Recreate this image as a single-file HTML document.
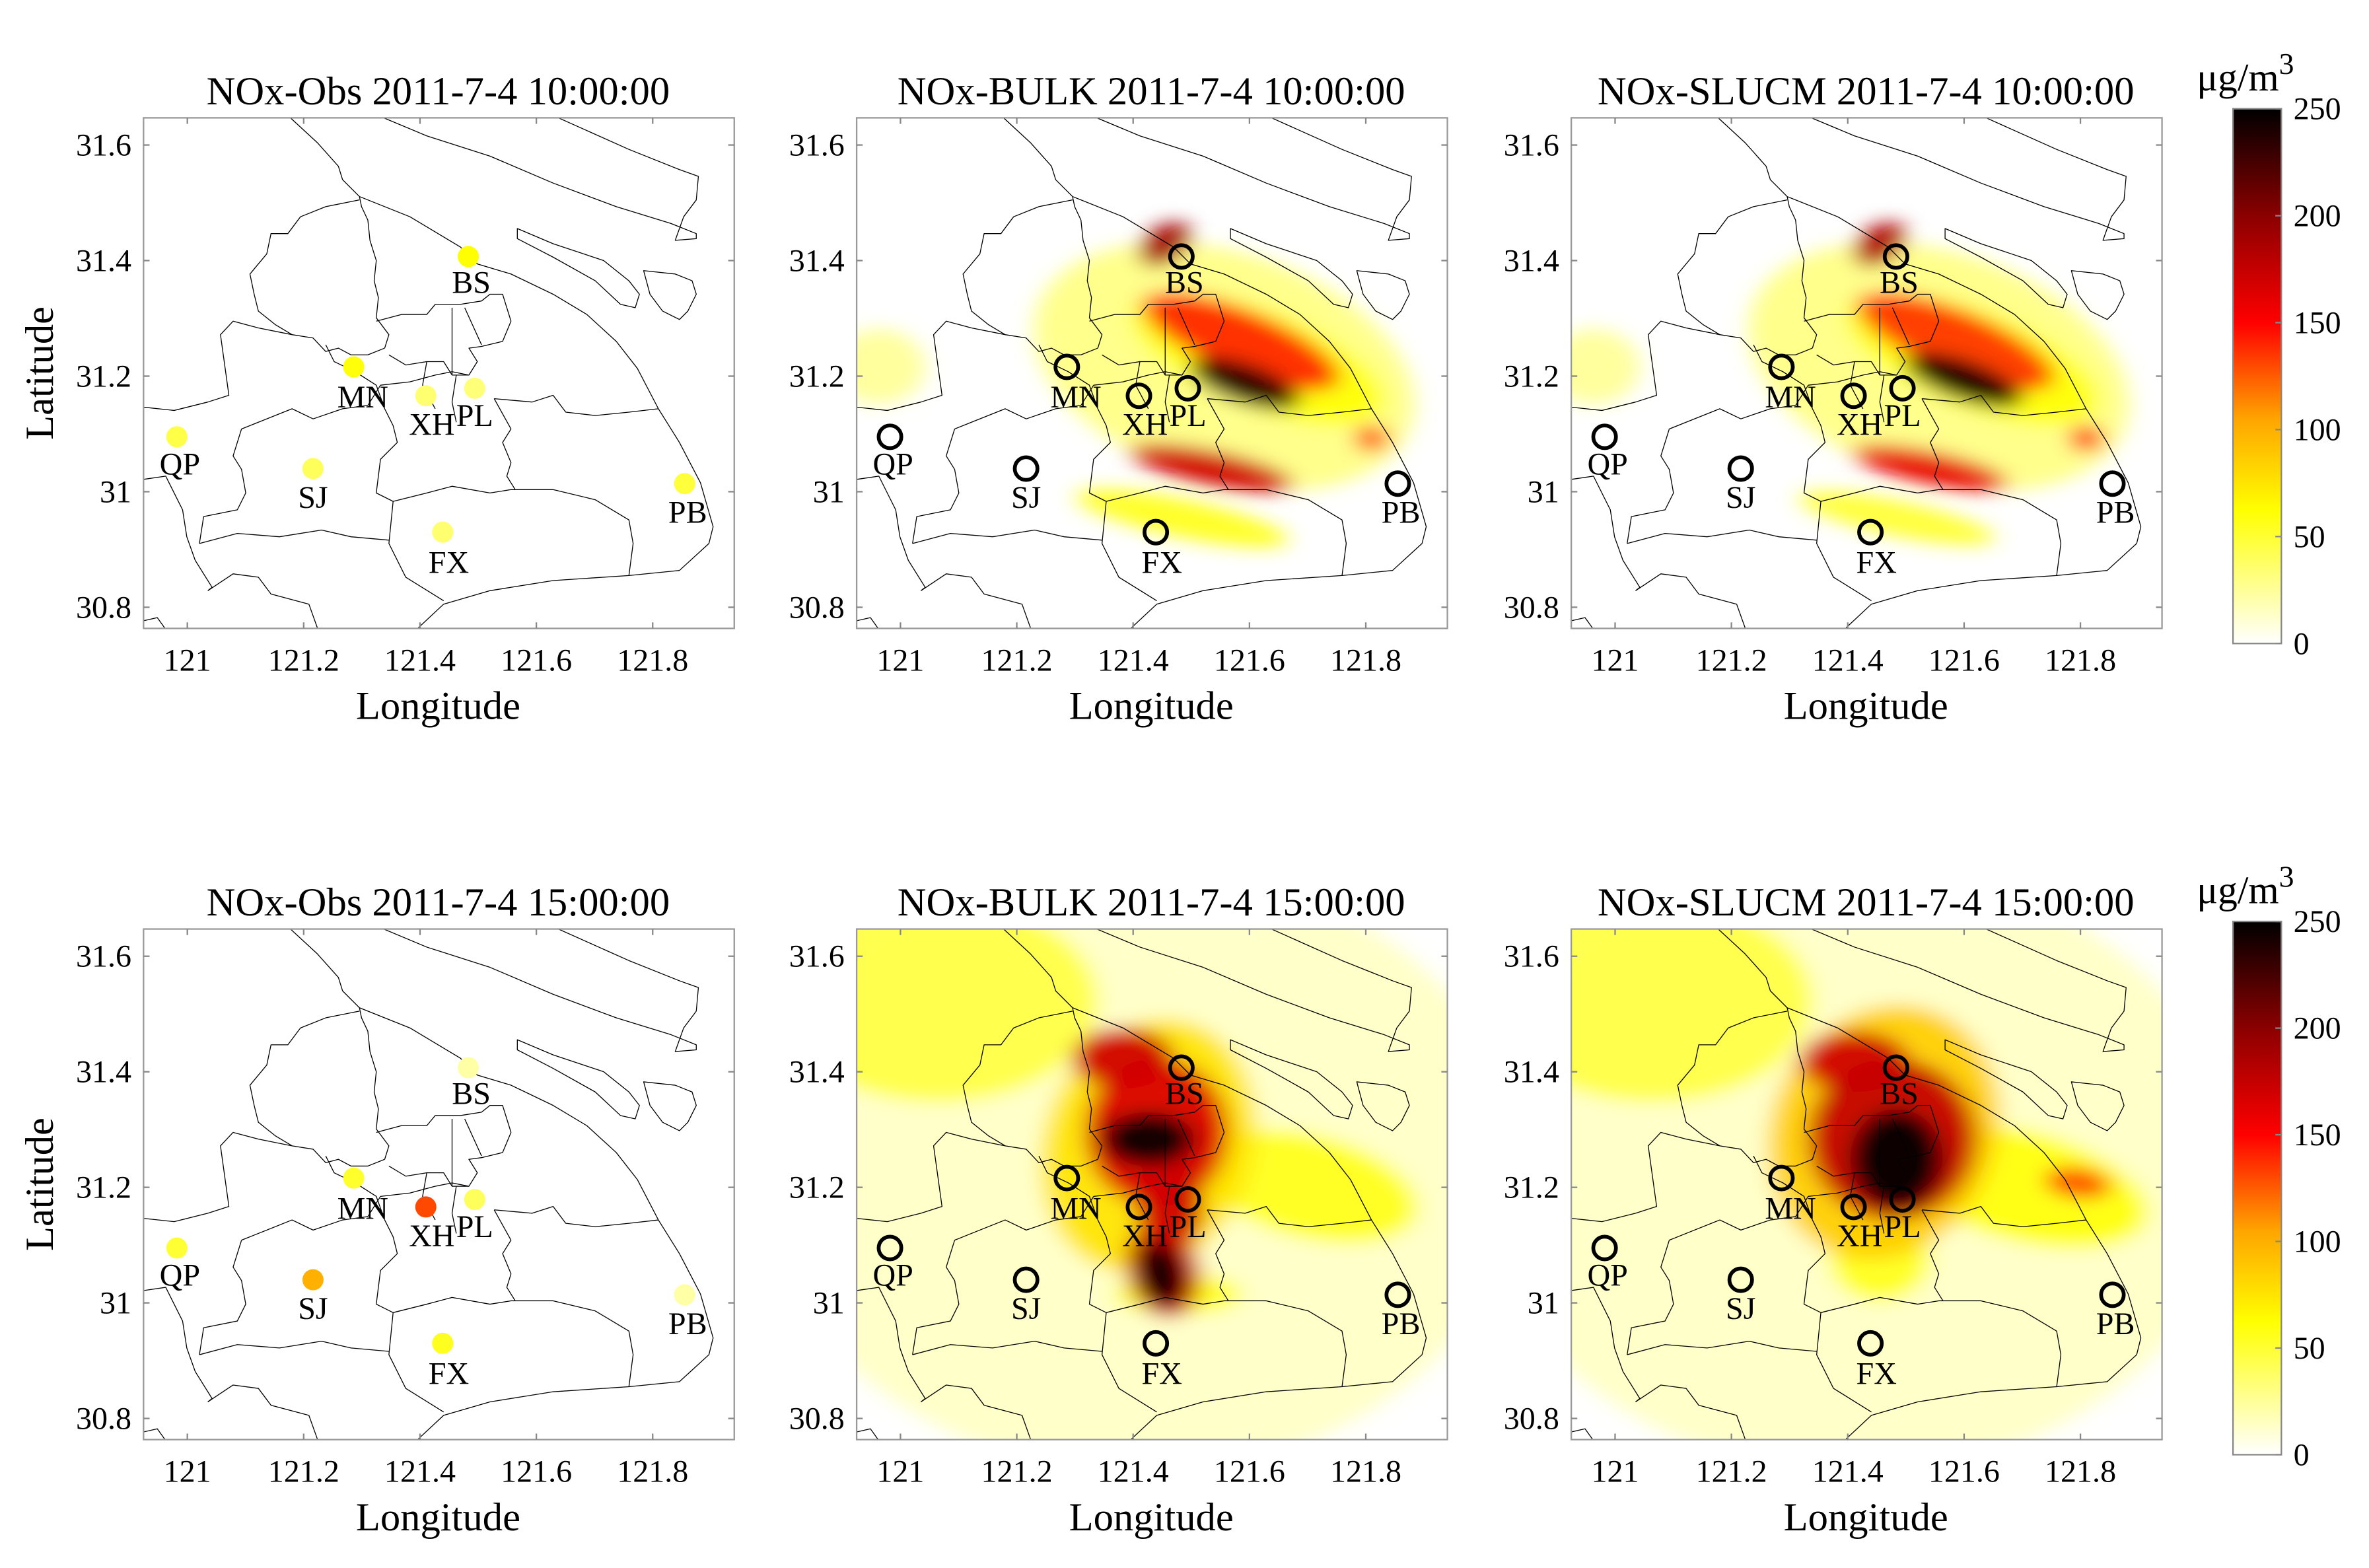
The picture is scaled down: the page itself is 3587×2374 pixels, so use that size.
<!DOCTYPE html>
<html><head><meta charset="utf-8">
<style>
html,body{margin:0;padding:0;background:#fff;}
svg{display:block;}
text{font-family:"Liberation Serif",serif;fill:#000;}
</style></head>
<body>
<svg id="fig" width="3587" height="2374" viewBox="0 0 1568 1038" preserveAspectRatio="none" xmlns="http://www.w3.org/2000/svg">
<defs>
  <filter id="blur" x="-50%" y="-50%" width="200%" height="200%"><feGaussianBlur stdDeviation="26"/></filter>
  <linearGradient id="cmap" x1="0" y1="1" x2="0" y2="0">
    <stop offset="0" stop-color="#ffffff"/>
    <stop offset="0.25" stop-color="#ffff00"/>
    <stop offset="0.42" stop-color="#ffa500"/>
    <stop offset="0.6" stop-color="#ff0000"/>
    <stop offset="0.8" stop-color="#8b0000"/>
    <stop offset="1" stop-color="#000000"/>
  </linearGradient>
  <clipPath id="axclip"><rect x="95" y="78" width="391" height="338"/></clipPath>
</defs>
<g id="root"></g>
</svg>
<script>
// ---- data ----
const stationNames = ["BS","MN","XH","PL","QP","SJ","FX","PB"];
const stationLon = [121.483,121.286,121.410,121.494,120.982,121.216,121.439,121.855];
const stationLat = [31.407,31.216,31.166,31.179,31.095,31.040,30.930,31.014];
const obs10 = [62,60,35,33,45,40,35,48];
const obs15 = [22,52,130,40,50,100,55,22];
const lonTicks = [121,121.2,121.4,121.6,121.8];
const lonTickLabels = ["121","121.2","121.4","121.6","121.8"];
const latTicks = [30.8,31,31.2,31.4,31.6];
const latTickLabels = ["30.8","31","31.2","31.4","31.6"];
const cbTicks = [0,50,100,150,200,250];
const titles = ["NOx-Obs 2011-7-4 10:00:00","NOx-BULK 2011-7-4 10:00:00","NOx-SLUCM 2011-7-4 10:00:00",
                "NOx-Obs 2011-7-4 15:00:00","NOx-BULK 2011-7-4 15:00:00","NOx-SLUCM 2011-7-4 15:00:00"];
// plume blobs: [x, y, rx, ry, angle, value] in map-grid units
const bulk10 = [[900,775,480,330,28,30],[80,775,110,112,0,25],[980,750,330,140,28,60],[940,700,260,90,28,140],[760,412,50,75,40,190],[950,825,140,56,25,235],[870,1075,200,50,15,170],[800,1225,260,56,15,55],[1250,988,40,38,0,130]];
const slucm10 = [[900,775,480,330,28,30],[80,775,110,112,0,25],[980,750,330,140,28,60],[940,700,260,90,28,135],[760,412,50,75,40,185],[960,815,150,56,25,240],[880,1075,190,48,15,160],[800,1225,240,52,15,50],[1250,988,40,38,0,140]];
const bulk15 = [[700,750,900,900,0,14],[220,250,380,300,0,45],[1100,800,270,150,20,55],[720,680,250,380,10,75],[660,420,120,90,0,170],[740,640,170,220,0,165],[720,660,110,80,0,245],[770,860,80,140,0,170],[755,1050,85,140,-10,170],[750,1060,55,100,-10,255],[790,1120,150,60,0,60]];
const slucm15 = [[700,750,900,900,0,14],[220,250,380,300,0,45],[1100,800,310,160,20,60],[770,640,270,380,10,85],[700,430,130,90,0,170],[790,660,200,240,0,175],[800,720,110,150,0,250],[1230,790,80,45,10,130],[760,1010,120,130,0,55]];

// ---- scales ----
function xScale(lon){ return 124 + (lon-121)*385; }
function yScale(lat){ return 96 + (31.6-lat)*382.5; }
function cbY(v, top, bot){ return bot - (v/250)*(bot-top); }
function lerp(a,b,t){return a+(b-a)*t;}
function cmap(v){
  const t=Math.max(0,Math.min(1,v/250));
  const s=[[0,[255,255,255]],[0.25,[255,255,0]],[0.42,[255,165,0]],[0.6,[255,0,0]],[0.8,[139,0,0]],[1,[0,0,0]]];
  for(let i=1;i<s.length;i++){ if(t<=s[i][0]){ const u=(t-s[i-1][0])/(s[i][0]-s[i-1][0]); const c=s[i-1][1].map((c0,k)=>Math.round(lerp(c0,s[i][1][k],u))); return `rgb(${c})`; } }
  return "rgb(0,0,0)";
}

const NS="http://www.w3.org/2000/svg";
function el(tag, attrs, parent){ const e=document.createElementNS(NS,tag); for(const k in attrs) e.setAttribute(k,attrs[k]); if(parent) parent.appendChild(e); return e; }

// map outlines (map-grid units)
const outlines = [
 "M375,35 L440,110 L490,180 L500,220 L540,270",
 "M595,35 L700,90 L850,150 L1000,230 L1150,300 L1280,350 L1340,380 L1340,395 L1290,400 L1310,330 L1340,280 L1345,210 L1300,190 L1180,130 L1010,35",
 "M540,270 L660,330 L780,420 L820,470 L900,500 L1000,560 L1080,620 L1150,700 L1200,780 L1250,900 L1300,1000 L1350,1120 L1380,1250 L1370,1300 L1300,1380 L1180,1395 L1000,1410 L850,1440 L740,1480 L680,1550",
 "M915,365 L915,395 L1000,450 L1100,520 L1160,590 L1195,600 L1205,560 L1180,520 L1120,460 L1000,410 Z",
 "M1215,490 L1230,560 L1260,610 L1300,635 L1320,610 L1340,560 L1330,520 L1290,500 Z",
 "M540,270 L545,300 L560,340 L565,400 L580,460 L575,520 L585,570 L580,630 L610,680 L600,720",
 "M540,280 L460,300 L400,330 L370,380 L330,380 L320,440 L280,500 L290,560 L300,610 L340,650 L380,680 L430,690 L460,730 L490,720 L520,740 L560,740 L600,720",
 "M25,895 L100,905 L180,880 L230,860 L210,680 L240,640 L300,660 L380,680",
 "M460,710 L480,760 L530,790 L580,830 L600,900 L620,950 L630,1000 L590,1050 L580,1150 L620,1175 L610,1300 L650,1400 L740,1470",
 "M260,960 L300,940 L380,900 L430,930 L500,900 L560,890 L590,830",
 "M590,830 L660,820 L720,800 L760,790 L800,800",
 "M860,870 L950,880 L1000,860 L1030,910 L1100,920 L1180,910 L1250,900",
 "M620,1175 L700,1150 L760,1130 L850,1150 L900,1140 L1000,1140 L1100,1170 L1180,1230 L1190,1300 L1180,1395",
 "M860,870 L900,960 L880,1000 L900,1060 L890,1100 L910,1140",
 "M160,1300 L250,1270 L350,1280 L450,1260 L520,1280 L610,1290",
 "M260,960 L240,1040 L260,1080 L270,1150 L250,1200 L170,1220 L160,1300",
 "M25,1110 L80,1100 L120,1200 L130,1280 L150,1350 L190,1430 L180,1440",
 "M180,1440 L240,1390 L300,1400 L330,1450 L420,1480 L440,1550",
 "M25,1530 L60,1520 L80,1555",
 "M580,640 L640,620 L700,620 L720,590 L780,590 L830,580 L850,560 L880,560 L900,640 L880,700 L830,715 L800,720 L820,760 L800,800 L760,800 L740,760 L700,760 L650,770 L610,740",
 "M760,600 L760,720 L760,800 M790,600 L830,710 M700,760 L690,830 L720,900 M770,800 L760,880 L770,940"
];

const root=document.getElementById('root');
const panels=[
 {dx:0,dy:0,type:'obs',vals:obs10,name:'obs-10h'},
 {dx:472,dy:0,type:'model',blobs:bulk10,name:'bulk-10h'},
 {dx:945,dy:0,type:'model',blobs:slucm10,name:'slucm-10h'},
 {dx:0,dy:537,type:'obs',vals:obs15,name:'obs-15h'},
 {dx:472,dy:537,type:'model',blobs:bulk15,name:'bulk-15h'},
 {dx:945,dy:537,type:'model',blobs:slucm15,name:'slucm-15h'}
];
const labelOff={BS:[2,24],MN:[6,27],XH:[4,26],PL:[0,25],QP:[2,25],SJ:[0,26],FX:[4,27],PB:[2,26]};

panels.forEach((p,pi)=>{
  const g=el('g',{transform:`translate(${p.dx},${p.dy})`},root);
  
  
  const t=el('text',{x:290,y:69,'text-anchor':'middle','font-size':26.5},g); t.textContent=titles[pi];
  
  
  el('rect',{x:95,y:78,width:391,height:338,fill:'#fff'},g);
  const clip=el('g',{'clip-path':'url(#axclip)'},g);
  const inner=el('g',{transform:'translate(87.4,69.9) scale(0.2787,0.223)'},clip);
  if(p.type==='model'){
    const fg=el('g',{filter:'url(#blur)'},inner);
    const sorted=p.blobs.slice().sort((a,b)=>a[5]-b[5]);
    sorted.forEach(b=>{
      const e=el('ellipse',{cx:b[0],cy:b[1],rx:b[2],ry:b[3],transform:`rotate(${b[4]} ${b[0]} ${b[1]})`,fill:cmap(b[5]),'fill-opacity':0.95},fg);
      
      
    });
  }
  outlines.forEach(d=>{
    const pth=el('path',{d:d,fill:'none',stroke:'#000','stroke-width':1.3,'vector-effect':'non-scaling-stroke','stroke-linejoin':'round'},inner);
    
    
  });
  // stations
  stationNames.forEach((n,i)=>{
    const x=xScale(stationLon[i]), y=yScale(stationLat[i]);
    let c;
    if(p.type==='obs'){
      c=el('circle',{cx:x,cy:y,r:7,fill:cmap(p.vals[i])},g);
    } else {
      c=el('circle',{cx:x,cy:y,r:7.5,fill:'none',stroke:'#000','stroke-width':2.5},g);
    }
    
    
    const o=labelOff[n];
    const lt=el('text',{x:x+o[0],y:y+o[1],'text-anchor':'middle','font-size':21},g); lt.textContent=n;
    
    
  });
  el('rect',{x:95,y:78,width:391,height:338,fill:'none',stroke:'#999','stroke-width':1},g);
  lonTicks.forEach((v,i)=>{
    const x=xScale(v);
    el('line',{x1:x,x2:x,y1:416,y2:412,stroke:'#888'},g);
    el('line',{x1:x,x2:x,y1:78,y2:82,stroke:'#888'},g);
    const tl=el('text',{x:x,y:444,'text-anchor':'middle','font-size':21},g); tl.textContent=lonTickLabels[i];
    
    
  });
  latTicks.forEach((v,i)=>{
    const y=yScale(v);
    el('line',{x1:95,x2:99,y1:y,y2:y,stroke:'#888'},g);
    el('line',{x1:486,x2:482,y1:y,y2:y,stroke:'#888'},g);
    const tl=el('text',{x:87,y:y+7,'text-anchor':'end','font-size':21},g); tl.textContent=latTickLabels[i];
    
    
  });
  const xl=el('text',{x:290,y:476,'text-anchor':'middle','font-size':26.5},g); xl.textContent='Longitude';
  
  
  if(p.dx===0){
    const yl=el('text',{x:35,y:247,'text-anchor':'middle','font-size':26.5,transform:'rotate(-90 35 247)'},g); yl.textContent='Latitude';
    
    
  }
});

// colorbars
[[72,426],[610,963]].forEach(([top,bot])=>{
  const g=el('g',{},root);
  
  
  el('rect',{x:1478,y:top,width:32,height:bot-top,fill:'url(#cmap)',stroke:'#888','stroke-width':1},g);
  cbTicks.forEach(v=>{
    const y=cbY(v,top,bot);
    el('line',{x1:1506,x2:1510,y1:y,y2:y,stroke:'#888'},g);
    const tl=el('text',{x:1518,y:y+7,'font-size':21},g); tl.textContent=v;
    
    
  });
  const u=el('text',{x:1454,y:top-12,'font-size':26},g);
  u.innerHTML='μg/m<tspan dy="-11" font-size="20">3</tspan>';
  
  
});
</script>
</body></html>
